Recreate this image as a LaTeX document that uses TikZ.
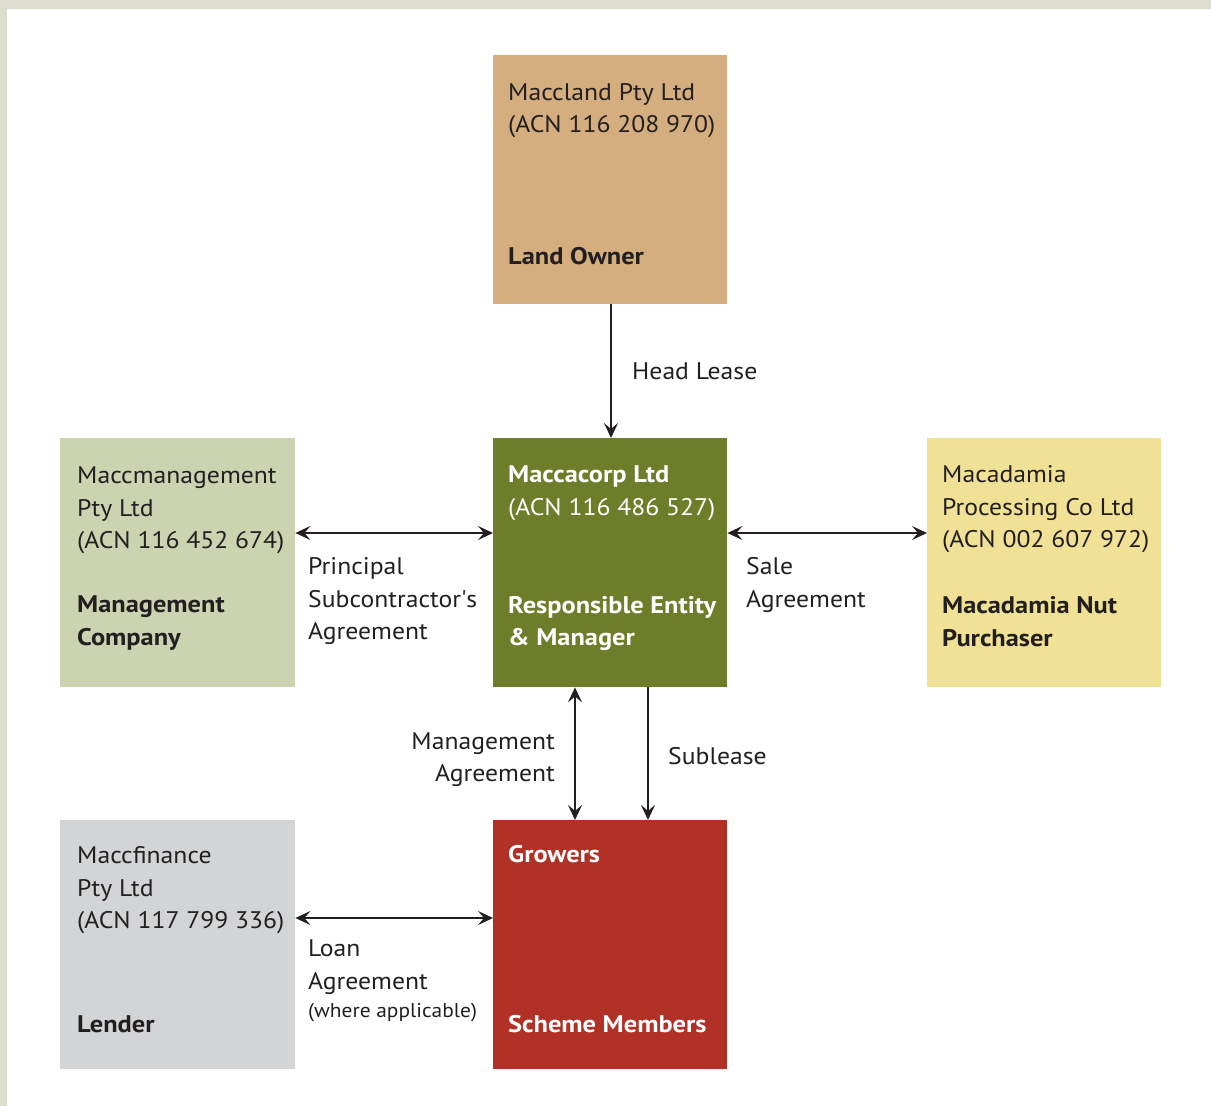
\documentclass[tikz,border=0pt]{standalone}
\usepackage{fontspec}
\setmainfont{PT Sans}[FakeStretch=1.07, BoldFeatures={FakeStretch=1.1}]
\usetikzlibrary{arrows.meta}
\definecolor{bandc}{HTML}{DCDDCC}
\definecolor{landc}{HTML}{D4AE7E}
\definecolor{centc}{HTML}{6E7D2A}
\definecolor{mgmtc}{HTML}{CBD3B0}
\definecolor{purc}{HTML}{F1E196}
\definecolor{finc}{HTML}{D3D4D6}
\definecolor{growc}{HTML}{B13126}
\definecolor{inkc}{HTML}{231F20}
\tikzset{
  box/.style={draw=none, minimum width=234pt, minimum height=249pt, inner sep=0pt, anchor=north west},
  txt/.style={anchor=base west, inner sep=0pt, text=inkc, font=\fontsize{24}{33}\selectfont},
  btxt/.style={txt, font=\fontsize{24}{33}\selectfont\bfseries},
  wtxt/.style={txt, text=white},
  wbtxt/.style={btxt, text=white},
  conn/.style={draw=inkc, line width=1.4pt},
  mytip/.tip={Stealth[length=15pt, width=14pt, inset=6pt]}
}
\begin{document}
\begin{tikzpicture}[x=1pt, y=-1pt]
\useasboundingbox (0,0) rectangle (1211,1106);
\fill[bandc] (0,0) rectangle (1211,1106);
\fill[white] (7,9) rectangle (1211,1106);
% boxes
\node[box, fill=landc] (land) at (493,55) {};
\node[box, fill=centc] (cent) at (493,438) {};
\node[box, fill=mgmtc, minimum width=235pt] (mgmt) at (60,438) {};
\node[box, fill=purc] (pur) at (927,438) {};
\node[box, fill=finc, minimum width=235pt] (fin) at (60,820) {};
\node[box, fill=growc] (grow) at (493,820) {};
% texts land owner
\node[txt] (l1) at (508,100) {Maccland Pty Ltd};
\node[txt] (l2) at (508,132) {(ACN 116 208 970)};
\node[btxt] (l3) at (508,264) {Land Owner};
% center
\node[wbtxt] (c1) at (508,482) {Maccacorp Ltd};
\node[wtxt] (c2) at (508,515) {(ACN 116 486 527)};
\node[wbtxt] (c3) at (508,613) {Responsible Entity};
\node[wbtxt] (c4) at (508,645) {\& Manager};
% management
\node[txt] (m1) at (77,483) {Maccmanagement};
\node[txt] (m2) at (77,516) {Pty Ltd};
\node[txt] (m3) at (77,548) {(ACN 116 452 674)};
\node[btxt] (m4) at (77,612) {Management};
\node[btxt] (m5) at (77,645) {Company};
% purchaser
\node[txt] (p1) at (942,482) {Macadamia};
\node[txt] (p2) at (942,515) {Processing Co Ltd};
\node[txt] (p3) at (942,547) {(ACN 002 607 972)};
\node[btxt] (p4) at (942,613) {Macadamia Nut};
\node[btxt] (p5) at (942,646) {Purchaser};
% finance
\node[txt] (f1) at (77,863) {Maccfinance};
\node[txt] (f2) at (77,896) {Pty Ltd};
\node[txt] (f3) at (77,928) {(ACN 117 799 336)};
\node[btxt] (f4) at (77,1032) {Lender};
% growers
\node[wbtxt] (g1) at (508,862) {Growers};
\node[wbtxt] (g2) at (508,1032) {Scheme Members};
% connectors
\draw[conn, -mytip] (land.south -| 611,0) -- (cent.north -| 611,0);
\node[txt] (hl) at (632,379) {Head Lease};
\draw[conn, mytip-mytip] (mgmt.east |- 0,533) -- (cent.west |- 0,533);
\node[txt] (ps1) at (308,574) {Principal};
\node[txt] (ps2) at (308,607) {Subcontractor\textquotesingle s};
\node[txt] (ps3) at (308,639) {Agreement};
\draw[conn, mytip-mytip] (cent.east |- 0,533) -- (pur.west |- 0,533);
\node[txt] (sa1) at (746,574) {Sale};
\node[txt] (sa2) at (746,607) {Agreement};
\draw[conn, mytip-mytip] (cent.south -| 575,0) -- (grow.north -| 575,0);
\node[txt, anchor=base east] (ma1) at (555,749) {Management};
\node[txt, anchor=base east] (ma2) at (555,781) {Agreement};
\draw[conn, -mytip] (cent.south -| 648,0) -- (grow.north -| 648,0);
\node[txt] (sl) at (668,764) {Sublease};
\draw[conn, mytip-mytip] (fin.east |- 0,918) -- (grow.west |- 0,918);
\node[txt] (la1) at (308,956) {Loan};
\node[txt] (la2) at (308,989) {Agreement};
\node[txt, font=\fontsize{20}{26}\selectfont] (la3) at (308,1017) {(where applicable)};
\end{tikzpicture}
\end{document}
